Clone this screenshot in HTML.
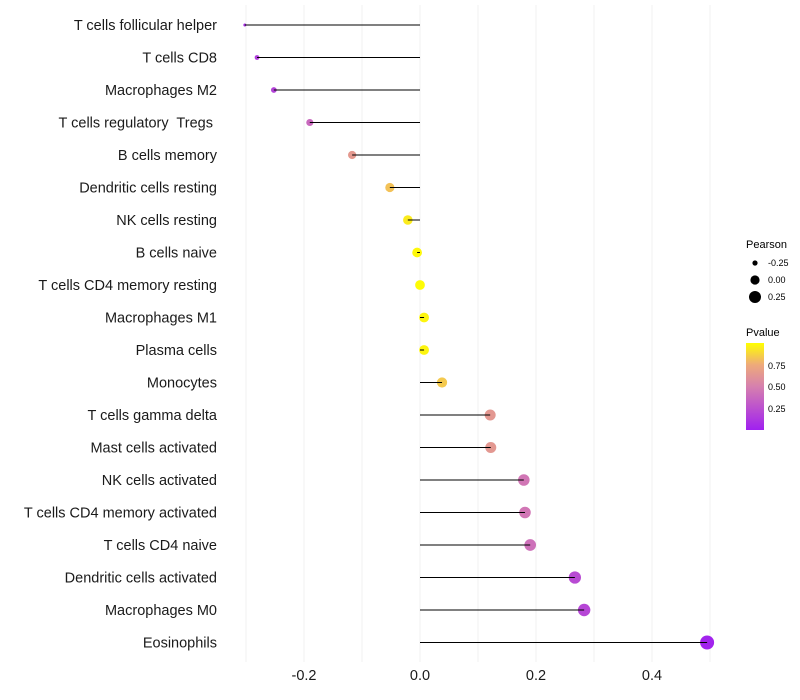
<!DOCTYPE html>
<html><head><meta charset="utf-8"><style>body{margin:0;background:#fff}svg{display:block}text{white-space:pre}</style></head>
<body>
<svg id="chart" width="800" height="700" xmlns="http://www.w3.org/2000/svg" font-family="Liberation Sans, sans-serif">
<defs>
<linearGradient id="pg" x1="0" y1="1" x2="0" y2="0">
<stop offset="0" stop-color="#a020f0"/><stop offset="0.5" stop-color="#d680ae"/><stop offset="0.75" stop-color="#eeaa7a"/><stop offset="1" stop-color="#ffff00"/>
</linearGradient>
</defs>
<g id="grid"></g>
<g id="marks"></g>
<g id="labels"></g>
<g id="xticks"></g>
<g>
<text x="746" y="248" font-size="11">Pearson</text>
<circle cx="755" cy="263" r="2.6" fill="#000"/>
<text x="768" y="266" font-size="9">-0.25</text>
<circle cx="755" cy="280" r="4.6" fill="#000"/>
<text x="768" y="283" font-size="9">0.00</text>
<circle cx="755" cy="297" r="6" fill="#000"/>
<text x="768" y="300" font-size="9">0.25</text>
</g>
<g>
<text x="746" y="336" font-size="11">Pvalue</text>
<rect x="746" y="343" width="18" height="87" fill="url(#pg)"/>
<text x="768" y="369" font-size="9">0.75</text>
<text x="768" y="390" font-size="9">0.50</text>
<text x="768" y="412" font-size="9">0.25</text>
</g>
</svg>
<script>
const categories=["T cells follicular helper","T cells CD8","Macrophages M2","T cells regulatory  Tregs ","B cells memory","Dendritic cells resting","NK cells resting","B cells naive","T cells CD4 memory resting","Macrophages M1","Plasma cells","Monocytes","T cells gamma delta","Mast cells activated","NK cells activated","T cells CD4 memory activated","T cells CD4 naive","Dendritic cells activated","Macrophages M0","Eosinophils"];
const pearson=[-0.302,-0.281,-0.252,-0.19,-0.117,-0.052,-0.021,-0.005,0.0,0.007,0.007,0.038,0.121,0.122,0.179,0.181,0.19,0.267,0.283,0.495];
const pvalues=[0.08,0.15,0.18,0.38,0.65,0.82,0.94,0.98,0.99,0.97,0.97,0.84,0.64,0.64,0.45,0.45,0.42,0.22,0.2,0.02];
const xTicks=[-0.2,0.0,0.2,0.4];
const xTickLabels=["-0.2","0.0","0.2","0.4"];
const NS="http://www.w3.org/2000/svg";
const xs=v=>420+580*v;
const ys=i=>25+i*32.5;
const rs=v=>1.5+5.5*Math.sqrt(Math.max(0,(v+0.302)/0.797));
function lerp(a,b,t){return a+(b-a)*t}
const stops=[[0,[160,32,240]],[0.5,[214,128,174]],[0.75,[238,170,122]],[1,[255,255,0]]];
function col(p){for(let k=1;k<stops.length;k++){if(p<=stops[k][0]){const t=(p-stops[k-1][0])/(stops[k][0]-stops[k-1][0]);const a=stops[k-1][1],b=stops[k][1];return `rgb(${Math.round(lerp(a[0],b[0],t))},${Math.round(lerp(a[1],b[1],t))},${Math.round(lerp(a[2],b[2],t))})`;}}return "rgb(255,255,0)";}
function mk(tag,at,parent){const e=document.createElementNS(NS,tag);for(const k in at)e.setAttribute(k,at[k]);parent.appendChild(e);return e;}
const grid=document.getElementById('grid'),marks=document.getElementById('marks'),labels=document.getElementById('labels'),xt=document.getElementById('xticks');
for(let g=-0.3;g<=0.51;g+=0.1){const l=mk('line',{x1:xs(g),x2:xs(g),y1:5,y2:662,stroke:'#eeeeee','stroke-width':0.8},grid);

}
categories.forEach((c,i)=>{
const y=ys(i);
const d=mk('circle',{cx:xs(pearson[i]),cy:y,r:rs(pearson[i]),fill:col(pvalues[i])},marks);


const ln=mk('line',{x1:xs(0),x2:xs(pearson[i]),y1:y,y2:y,stroke:'#000','stroke-width':1},marks);


const t=mk('text',{x:217,y:y+5,'text-anchor':'end','font-size':14.5,fill:'#1a1a1a'},labels);
t.textContent=c;


});
xTicks.forEach((v,i)=>{const t=mk('text',{x:xs(v),y:680,'text-anchor':'middle','font-size':14.5,fill:'#1a1a1a'},xt);
t.textContent=xTickLabels[i];

});
</script>
</body></html>
